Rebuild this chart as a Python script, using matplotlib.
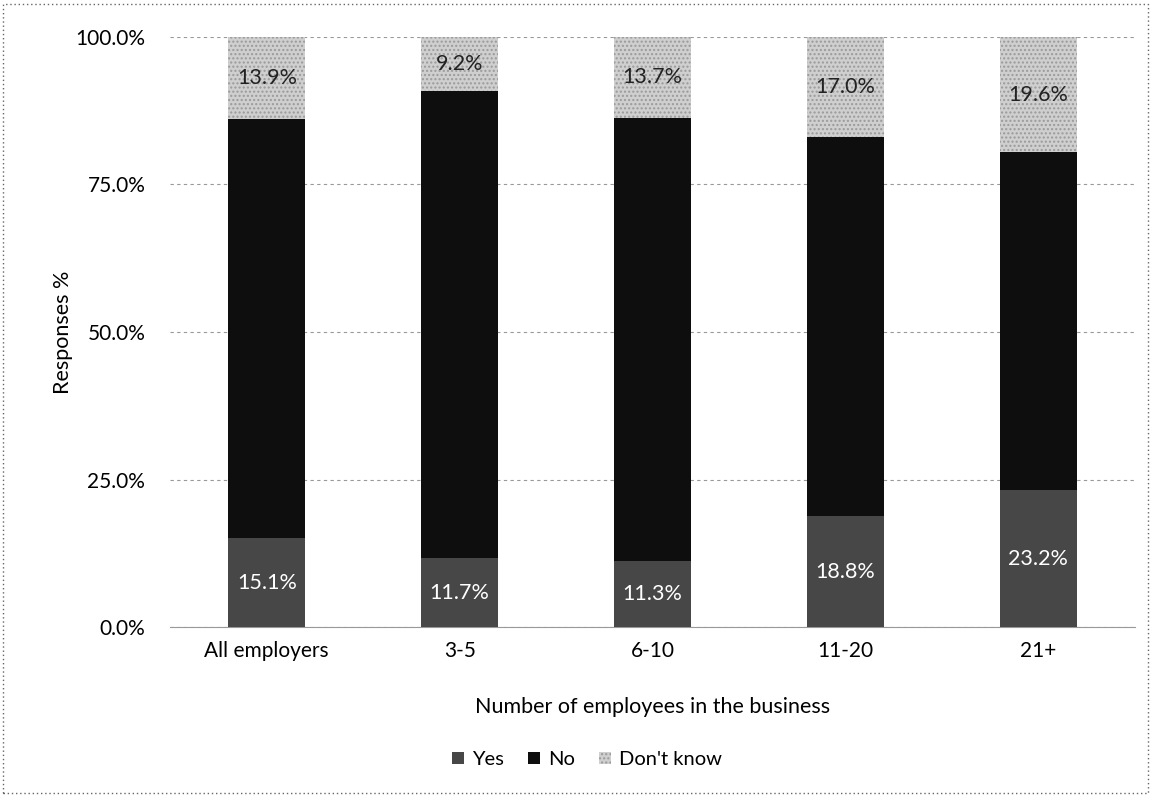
import matplotlib
matplotlib.use("Agg")
import matplotlib.pyplot as plt
import numpy as np
from matplotlib.ticker import FuncFormatter

categories = ["All employers", "3-5", "6-10", "11-20", "21+"]
yes = [15.1, 11.7, 11.3, 18.8, 23.2]
dont_know = [13.9, 9.2, 13.7, 17.0, 19.6]
no = [round(100 - y - d, 1) for y, d in zip(yes, dont_know)]

plt.rcParams['font.family'] = ['Lato', 'DejaVu Sans']

fig = plt.figure(figsize=(11.51, 7.97), dpi=100)
ax = fig.add_axes([0.148, 0.213, 0.838, 0.741])

x = np.arange(len(categories))
w = 0.4
c_yes, c_no, c_dk = '#474747', '#0e0e0e', '#cfcfcf'
b1 = ax.bar(x, yes, w, color=c_yes, label='Yes', zorder=3)
b2 = ax.bar(x, no, w, bottom=yes, color=c_no, label='No', zorder=3)
bot3 = [a + b for a, b in zip(yes, no)]
b3 = ax.bar(x, dont_know, w, bottom=bot3, color=c_dk, label="Don't know",
            hatch='....', edgecolor='#9a9a9a', linewidth=0, zorder=3)

for i in range(len(categories)):
    ax.text(x[i], yes[i] / 2, f"{yes[i]:.1f}%", ha='center', va='center',
            color='white', fontsize=15.5, zorder=4)
    ax.text(x[i], bot3[i] + dont_know[i] / 2, f"{dont_know[i]:.1f}%", ha='center',
            va='center', color='#222222', fontsize=15.5, zorder=4)

ax.set_ylim(0, 100)
ax.set_xlim(-0.5, len(categories) - 0.5)
ax.set_yticks([0, 25, 50, 75, 100])
ax.yaxis.set_major_formatter(FuncFormatter(lambda v, p: f"{v:.1f}%"))
ax.set_xticks(x)
ax.set_xticklabels(categories)
ax.tick_params(axis='both', length=0, labelsize=15, pad=10)
ax.tick_params(axis='y', pad=18)
ax.grid(axis='y', color='#999999', linestyle=(0, (3, 3)), linewidth=0.8, zorder=0)
for s in ['top', 'right', 'left']:
    ax.spines[s].set_visible(False)
ax.spines['bottom'].set_color('#999999')
ax.set_ylabel("Responses %", fontsize=15.5, labelpad=2)
ax.set_xlabel("Number of employees in the business", fontsize=15.5, labelpad=26)

fig.legend(handles=[b1, b2, b3], labels=['Yes', 'No', "Don't know"],
           loc='center', bbox_to_anchor=(0.51, 0.047), ncol=3, frameon=False,
           fontsize=14.5, handlelength=0.6, handleheight=0.6, columnspacing=1.2,
           handletextpad=0.4)

border = plt.Rectangle((0.003, 0.005), 0.994, 0.99, transform=fig.transFigure,
                       fill=False, edgecolor='#666666', linestyle=(0, (1, 2)), linewidth=1)
fig.add_artist(border)

fig.savefig("out.png", dpi=100)
